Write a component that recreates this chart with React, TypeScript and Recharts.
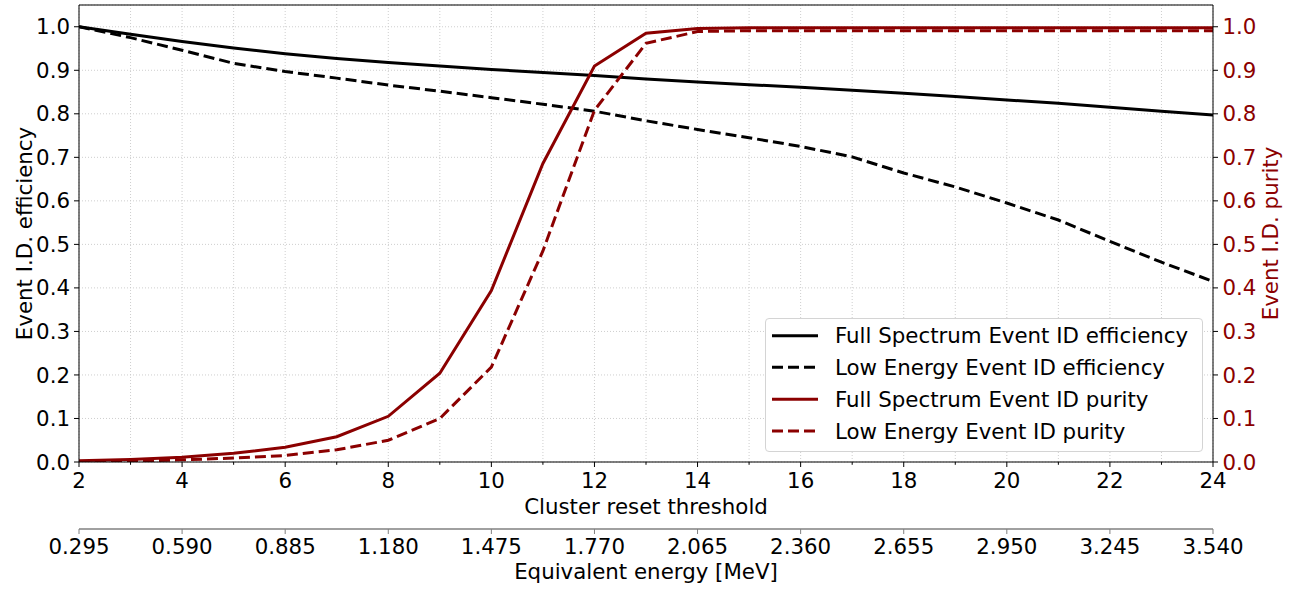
import React from 'react';
import {
  LineChart,
  Line,
  XAxis,
  YAxis,
  CartesianGrid,
  Legend,
  ReferenceLine,
} from 'recharts';

// ---------- data ----------
const thresholds = [2, 3, 4, 5, 6, 7, 8, 9, 10, 11, 12, 13, 14, 15, 16, 17, 18, 19, 20, 21, 22, 23, 24];
const effFull = [1.0, 0.983, 0.966, 0.951, 0.938, 0.927, 0.918, 0.91, 0.902, 0.895, 0.888, 0.88, 0.873, 0.867, 0.861, 0.854, 0.847, 0.84, 0.832, 0.824, 0.815, 0.806, 0.797];
const effLow = [1.0, 0.975, 0.946, 0.916, 0.897, 0.882, 0.866, 0.852, 0.837, 0.822, 0.806, 0.784, 0.764, 0.745, 0.725, 0.701, 0.664, 0.632, 0.595, 0.556, 0.507, 0.459, 0.415];
const purFull = [0.003, 0.006, 0.011, 0.02, 0.034, 0.058, 0.105, 0.204, 0.394, 0.686, 0.91, 0.985, 0.996, 0.998, 0.998, 0.998, 0.998, 0.998, 0.998, 0.998, 0.998, 0.998, 0.998];
const purLow = [0.001, 0.002, 0.005, 0.009, 0.015, 0.028, 0.05, 0.1, 0.218, 0.485, 0.808, 0.962, 0.989, 0.991, 0.991, 0.991, 0.991, 0.991, 0.991, 0.991, 0.991, 0.991, 0.991];

const xTicks = [2, 3, 4, 5, 6, 7, 8, 9, 10, 11, 12, 13, 14, 15, 16, 17, 18, 19, 20, 21, 22, 23, 24];
const energyTicks = [2, 4, 6, 8, 10, 12, 14, 16, 18, 20, 22, 24];
const yTicks = [0, 0.1, 0.2, 0.3, 0.4, 0.5, 0.6, 0.7, 0.8, 0.9, 1.0];
const ENERGY_PER_UNIT = 0.1475;

const xLabel = 'Cluster reset threshold';
const energyLabel = 'Equivalent energy [MeV]';
const leftLabel = 'Event I.D. efficiency';
const rightLabel = 'Event I.D. purity';

const RED = '#8b0000';
const FONT = "'DejaVu Sans', 'Liberation Sans', sans-serif";
const FS = 21.33;

const MAIN = 'a_main';
const ENERGY = 'b_energy';

const series = [
  { key: 'effFull', name: 'Full Spectrum Event ID efficiency', color: '#000000', dash: undefined as string | undefined, axis: 'left' },
  { key: 'effLow', name: 'Low Energy Event ID efficiency', color: '#000000', dash: '11 5', axis: 'left' },
  { key: 'purFull', name: 'Full Spectrum Event ID purity', color: RED, dash: undefined as string | undefined, axis: 'right' },
  { key: 'purLow', name: 'Low Energy Event ID purity', color: RED, dash: '11 5', axis: 'right' },
];

const data = thresholds.map((x, i) => ({
  x,
  effFull: effFull[i],
  effLow: effLow[i],
  purFull: purFull[i],
  purLow: purLow[i],
}));

// ---------- custom pieces ----------
const MainXTick = (props: any) => {
  const { x, y, payload } = props;
  const v = payload.value as number;
  const major = v % 2 === 0;
  return (
    <g>
      <line x1={x} y1={y} x2={x} y2={y + (major ? 5 : 2.8)} stroke="#000" strokeWidth={1} />
      {major && (
        <text x={x} y={y + 25.7} textAnchor="middle" fontSize={FS} fill="#000" fontFamily={FONT}>
          {v}
        </text>
      )}
    </g>
  );
};

const XTitle = (props: any) => {
  const vb = props.viewBox || { x: 79, y: 462, width: 1134, height: 67 };
  return (
    <text x={vb.x + vb.width / 2} y={vb.y + 52.3} textAnchor="middle" fontSize={FS} fill="#000" fontFamily={FONT}>
      {xLabel}
    </text>
  );
};

const EnergyTitle = (props: any) => {
  const vb = props.viewBox || { x: 79, y: 529, width: 1134, height: 60 };
  return (
    <text x={vb.x + vb.width / 2} y={vb.y + 50} textAnchor="middle" fontSize={FS} fill="#000" fontFamily={FONT}>
      {energyLabel}
    </text>
  );
};

const LeftTitle = (props: any) => {
  const vb = props.viewBox || { x: 0, y: 5, width: 79, height: 457 };
  const cx = vb.x + 32;
  const cy = vb.y + vb.height / 2;
  return (
    <text x={cx} y={cy} transform={`rotate(-90, ${cx}, ${cy})`} textAnchor="middle" fontSize={FS} fill="#000" fontFamily={FONT}>
      {leftLabel}
    </text>
  );
};

const RightTitle = (props: any) => {
  const vb = props.viewBox || { x: 1213, y: 5, width: 91, height: 457 };
  const cx = vb.x + 65;
  const cy = vb.y + vb.height / 2;
  return (
    <text x={cx} y={cy} transform={`rotate(-90, ${cx}, ${cy})`} textAnchor="middle" fontSize={FS} fill={RED} fontFamily={FONT}>
      {rightLabel}
    </text>
  );
};

const LegendBox = () => {
  const rows = [17.7, 49.3, 81.3, 113];
  return (
    <div
      style={{
        width: 438,
        height: 134,
        boxSizing: 'border-box',
        border: '1px solid #d4d4d4',
        borderRadius: 4,
        background: '#ffffff',
      }}
    >
      <svg width={436} height={132} style={{ display: 'block' }}>
        {series.map((s, i) => (
          <g key={s.key}>
            <line
              x1={6}
              x2={52}
              y1={rows[i] - 1}
              y2={rows[i] - 1}
              stroke={s.color}
              strokeWidth={3}
              strokeDasharray={s.dash}
            />
            <text x={69} y={rows[i] + 6.6} fontSize={FS} fill="#000" fontFamily={FONT}>
              {s.name}
            </text>
          </g>
        ))}
      </svg>
    </div>
  );
};

export default function App() {
  return (
    <div style={{ position: 'absolute', left: 0, top: 0, width: 1304, height: 589, background: '#fff', fontFamily: FONT }}>
      <LineChart width={1304} height={589} data={data} margin={{ top: 5, right: 0, bottom: 0, left: 0 }}>
        <CartesianGrid
          xAxisId={MAIN}
          yAxisId="left"
          stroke="#c8c8c8"
          strokeDasharray="1 2"
          strokeWidth={0.9}
        />
        <XAxis
          xAxisId={MAIN}
          dataKey="x"
          type="number"
          domain={[2, 24]}
          ticks={xTicks}
          interval={0}
          height={67}
          tickSize={0}
          tickMargin={0}
          tickLine={false}
          axisLine={{ stroke: '#000', strokeWidth: 1 }}
          tick={<MainXTick />}
          label={<XTitle />}
          allowDataOverflow
        />
        <XAxis
          xAxisId={ENERGY}
          dataKey="x"
          type="number"
          domain={[2, 24]}
          ticks={energyTicks}
          interval={0}
          height={60}
          tickSize={5}
          tickMargin={5.2}
          tickLine={{ stroke: '#808080', strokeWidth: 1 }}
          axisLine={{ stroke: '#808080', strokeWidth: 1.3 }}
          tick={{ fontSize: FS, fill: '#000', fontFamily: FONT }}
          tickFormatter={(v: number) => (v * ENERGY_PER_UNIT).toFixed(3)}
          label={<EnergyTitle />}
          allowDataOverflow
        />
        <YAxis
          yAxisId="left"
          type="number"
          domain={[0, 1.05]}
          ticks={yTicks}
          interval={0}
          width={79}
          tickSize={5}
          tickMargin={4}
          tickLine={{ stroke: '#000' }}
          axisLine={{ stroke: '#000', strokeWidth: 1 }}
          tick={{ fontSize: FS, fill: '#000', fontFamily: FONT }}
          tickFormatter={(v: number) => v.toFixed(1)}
          label={<LeftTitle />}
          allowDataOverflow
        />
        <YAxis
          yAxisId="right"
          orientation="right"
          type="number"
          domain={[0, 1.05]}
          ticks={yTicks}
          interval={0}
          width={91}
          tickSize={5}
          tickMargin={4.5}
          tickLine={{ stroke: '#000' }}
          axisLine={{ stroke: '#000', strokeWidth: 1 }}
          tick={{ fontSize: FS, fill: RED, fontFamily: FONT }}
          tickFormatter={(v: number) => v.toFixed(1)}
          label={<RightTitle />}
          allowDataOverflow
        />
        <ReferenceLine xAxisId={MAIN} yAxisId="left" y={1.05} stroke="#000" strokeWidth={1} />
        {series.map((s) => (
          <Line
            key={s.key}
            xAxisId={MAIN}
            yAxisId={s.axis}
            type="linear"
            dataKey={s.key}
            name={s.name}
            stroke={s.color}
            strokeWidth={3}
            strokeDasharray={s.dash}
            dot={false}
            activeDot={false}
            isAnimationActive={false}
          />
        ))}
        <Legend
          layout="vertical"
          align="center"
          verticalAlign="middle"
          content={() => <LegendBox />}
          wrapperStyle={{ position: 'absolute', left: 765, top: 318, width: 438, height: 134 }}
        />
      </LineChart>
    </div>
  );
}
